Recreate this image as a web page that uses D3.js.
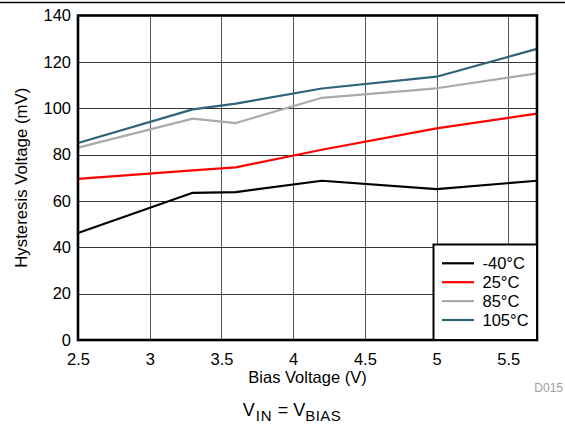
<!DOCTYPE html>
<html>
<head>
<meta charset="utf-8">
<script src="https://cdn.jsdelivr.net/npm/d3@7"></script>
<style>
  html, body { margin: 0; padding: 0; background: #fff; }
  svg { display: block; font-family: Arial, "Liberation Sans", sans-serif; }
</style>
</head>
<body>
<svg id="chart" width="565" height="429"></svg>
<script>
// Bias voltage sweep points (V)
const biasVoltage = [2.5, 3.3, 3.6, 4.2, 5.0, 5.7];

// Hysteresis voltage (mV) per temperature
const seriesNames = ["-40°C", "25°C", "85°C", "105°C"];
const seriesColors = ["#000000", "#ff0000", "#aaaaaa", "#2e637a"];
const hystM40 = [46.2, 63.5, 63.8, 68.7, 65.1, 68.7];
const hyst25 = [69.5, 73.2, 74.5, 82.1, 91.3, 97.7];
const hyst85 = [83.0, 95.5, 93.6, 104.5, 108.6, 115.0];
const hyst105 = [85.0, 99.5, 102.0, 108.5, 113.6, 125.6];
const seriesValues = [hystM40, hyst25, hyst85, hyst105];

const xTicks = [2.5, 3, 3.5, 4, 4.5, 5, 5.5];
const yTicks = [0, 20, 40, 60, 80, 100, 120, 140];

const svg = d3.select("#chart");
const plotL = 78, plotR = 537, plotT = 15.5, plotB = 340;
const fontSize = 16.5;

const x = d3.scaleLinear().domain([2.5, 5.7]).range([plotL, plotR]);
const y = d3.scaleLinear().domain([0, 140]).range([plotB, plotT]);

// Rule across the top of the page
svg.append("line")
  .attr("x1", 0).attr("x2", 565).attr("y1", 2.5).attr("y2", 2.5)
  .attr("stroke", "#000").attr("stroke-width", 1.4);

// Grid
const grid = svg.append("g");
grid.selectAll("line.v").data(xTicks.slice(1)).enter().append("line")
  .attr("x1", d => Math.round(x(d)) + 0.5).attr("x2", d => Math.round(x(d)) + 0.5)
  .attr("y1", plotT).attr("y2", plotB)
  .attr("stroke", "#555").attr("stroke-width", 1);
grid.selectAll("line.h").data(yTicks.slice(1, -1)).enter().append("line")
  .attr("x1", plotL).attr("x2", plotR)
  .attr("y1", d => Math.round(y(d)) + 0.5).attr("y2", d => Math.round(y(d)) + 0.5)
  .attr("stroke", "#333").attr("stroke-width", 1);

// Series lines
const line = d3.line().x((d, i) => x(biasVoltage[i])).y(d => y(d));
svg.append("g").selectAll("path").data(seriesValues).enter().append("path")
  .attr("d", d => line(d))
  .attr("fill", "none")
  .attr("stroke", (d, i) => seriesColors[i])
  .attr("stroke-width", 2.2)
  .attr("stroke-linejoin", "round");

// Plot frame
svg.append("rect")
  .attr("x", plotL).attr("y", plotT)
  .attr("width", plotR - plotL).attr("height", plotB - plotT)
  .attr("fill", "none").attr("stroke", "#000").attr("stroke-width", 2.6);

// Axes (labels only; the frame forms the axis lines)
const xAxis = d3.axisBottom(x).tickValues(xTicks).tickSize(0).tickPadding(13)
  .tickFormat(d3.format("~g"));
const gx = svg.append("g").attr("transform", `translate(0,${plotB})`).call(xAxis);
gx.select(".domain").remove();
gx.selectAll("text").attr("font-size", fontSize).attr("fill", "#000")
  .attr("font-family", "Arial, 'Liberation Sans', sans-serif");

const yAxis = d3.axisLeft(y).tickValues(yTicks).tickSize(0).tickPadding(7);
const gy = svg.append("g").attr("transform", `translate(${plotL},0)`).call(yAxis);
gy.select(".domain").remove();
gy.selectAll("text").attr("font-size", fontSize).attr("fill", "#000")
  .attr("font-family", "Arial, 'Liberation Sans', sans-serif");

// Axis titles
svg.append("text")
  .attr("x", (plotL + plotR) / 2).attr("y", 383)
  .attr("text-anchor", "middle").attr("font-size", fontSize)
  .text("Bias Voltage (V)");
svg.append("text")
  .attr("transform", `translate(27,${(plotT + plotB) / 2}) rotate(-90)`)
  .attr("text-anchor", "middle").attr("font-size", 16.8)
  .text("Hysteresis Voltage (mV)");

// Figure id
svg.append("text")
  .attr("x", 563).attr("y", 392)
  .attr("text-anchor", "end").attr("font-size", 12).attr("fill", "#a0a0a0")
  .text("D015");

// Condition caption
const cap = svg.append("text")
  .attr("x", 292).attr("y", 415.7)
  .attr("text-anchor", "middle").attr("font-size", 18);
cap.append("tspan").text("V");
cap.append("tspan").attr("font-size", 15).attr("letter-spacing", 1)
  .attr("dx", 1).attr("dy", 5).text("IN");
cap.append("tspan").attr("dy", -5).text(" = V");
cap.append("tspan").attr("font-size", 15).attr("letter-spacing", 0.5)
  .attr("dy", 5).text("BIAS");

// Legend
const lg = svg.append("g");
lg.append("rect")
  .attr("x", 433.5).attr("y", 244.5).attr("width", plotR - 433.5).attr("height", plotB - 244.5)
  .attr("fill", "#fff").attr("stroke", "#000").attr("stroke-width", 2);
const items = lg.selectAll("g.item").data(seriesNames).enter().append("g")
  .attr("transform", (d, i) => `translate(0,${263.3 + i * 18.9})`);
items.append("line")
  .attr("x1", 442).attr("x2", 474).attr("y1", 0).attr("y2", 0)
  .attr("stroke", (d, i) => seriesColors[i]).attr("stroke-width", 2.2);
items.append("text")
  .attr("x", 482.5).attr("y", 5.8).attr("font-size", fontSize)
  .text(d => d);
</script>
</body>
</html>
